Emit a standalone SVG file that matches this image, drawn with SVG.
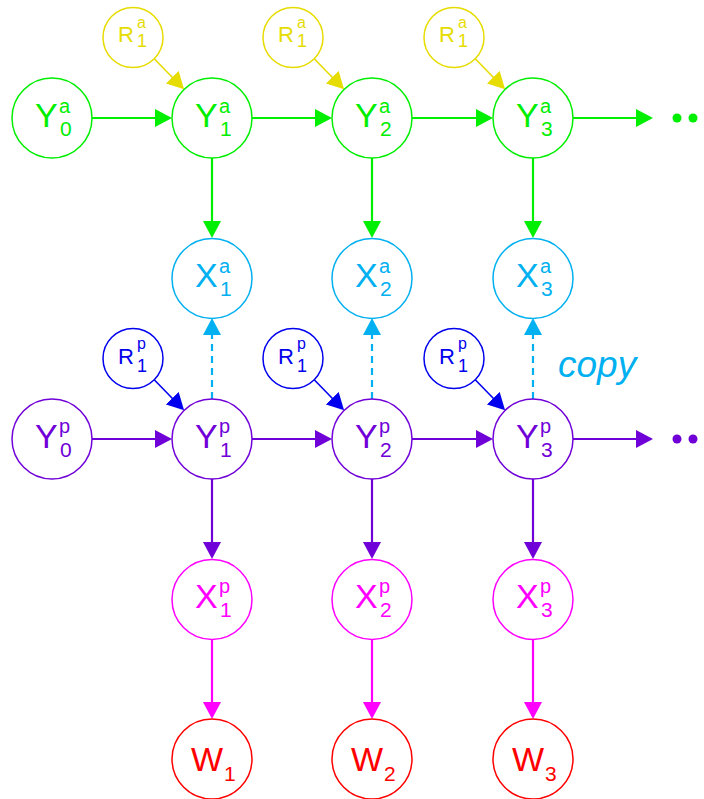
<svg xmlns="http://www.w3.org/2000/svg" width="704" height="799" viewBox="0 0 704 799">
<style>
text{font-family:"Liberation Sans",Arial,sans-serif}
.n{fill:#fff;stroke-width:1.5}
.m{font-size:34px}.sp{font-size:20px}.sb{font-size:21px}
.rm{font-size:22px}.rsp{font-size:16px}.rsb{font-size:18px}
.g{stroke:#00ee00}.gt{fill:#00ee00}
.y{stroke:#e6dc00}.yt{fill:#e6dc00}
.c{stroke:#00b0f0}.ct{fill:#00b0f0}
.b{stroke:#0000ee}.bt{fill:#0000ee}
.p{stroke:#7000d8}.pt{fill:#7000d8}
.mg{stroke:#ff00ff}.mt{fill:#ff00ff}
.r{stroke:#ff0000}.rt{fill:#ff0000}
.e{fill:none;stroke-width:2.2}
.ed{fill:none;stroke-width:1.6}
</style>
<defs>
<marker id="ag" markerUnits="userSpaceOnUse" viewBox="0 0 17 18" markerWidth="17" markerHeight="18" refX="7" refY="9" orient="auto"><path d="M0,0L17,9L0,18z" fill="#00ee00"/></marker>
<marker id="ay" markerUnits="userSpaceOnUse" viewBox="0 0 17 18" markerWidth="17" markerHeight="18" refX="7" refY="9" orient="auto"><path d="M0,0L17,9L0,18z" fill="#e6dc00"/></marker>
<marker id="ac" markerUnits="userSpaceOnUse" viewBox="0 0 17 18" markerWidth="17" markerHeight="18" refX="7" refY="9" orient="auto"><path d="M0,0L17,9L0,18z" fill="#00b0f0"/></marker>
<marker id="ab" markerUnits="userSpaceOnUse" viewBox="0 0 17 18" markerWidth="17" markerHeight="18" refX="7" refY="9" orient="auto"><path d="M0,0L17,9L0,18z" fill="#0000ee"/></marker>
<marker id="ap" markerUnits="userSpaceOnUse" viewBox="0 0 17 18" markerWidth="17" markerHeight="18" refX="7" refY="9" orient="auto"><path d="M0,0L17,9L0,18z" fill="#7000d8"/></marker>
<marker id="am" markerUnits="userSpaceOnUse" viewBox="0 0 17 18" markerWidth="17" markerHeight="18" refX="7" refY="9" orient="auto"><path d="M0,0L17,9L0,18z" fill="#ff00ff"/></marker>
</defs>

<g id="connectors">
<line class="e g" x1="92" y1="118" x2="162" y2="118" marker-end="url(#ag)"/>
<line class="e g" x1="252" y1="118" x2="322" y2="118" marker-end="url(#ag)"/>
<line class="e g" x1="412" y1="118" x2="483" y2="118" marker-end="url(#ag)"/>
<line class="e g" x1="573" y1="118" x2="643" y2="118" marker-end="url(#ag)"/>
<line class="e g" x1="212" y1="158" x2="212" y2="228" marker-end="url(#ag)"/>
<line class="e g" x1="372" y1="158" x2="372" y2="228" marker-end="url(#ag)"/>
<line class="e g" x1="533" y1="158" x2="533" y2="228" marker-end="url(#ag)"/>
<line class="ed y" x1="154" y1="58.5" x2="177.1" y2="82.2" marker-end="url(#ay)"/>
<line class="ed y" x1="314" y1="58.5" x2="337.1" y2="82.2" marker-end="url(#ay)"/>
<line class="ed y" x1="475" y1="58.5" x2="498.1" y2="82.2" marker-end="url(#ay)"/>
<line class="e c" stroke-dasharray="7 5" x1="212" y1="399" x2="212" y2="328" marker-end="url(#ac)"/>
<line class="e c" stroke-dasharray="7 5" x1="372" y1="399" x2="372" y2="328" marker-end="url(#ac)"/>
<line class="e c" stroke-dasharray="7 5" x1="533" y1="399" x2="533" y2="328" marker-end="url(#ac)"/>
<line class="ed b" x1="154" y1="379.5" x2="177.1" y2="403.2" marker-end="url(#ab)"/>
<line class="ed b" x1="314" y1="379.5" x2="337.1" y2="403.2" marker-end="url(#ab)"/>
<line class="ed b" x1="475" y1="379.5" x2="498.1" y2="403.2" marker-end="url(#ab)"/>
<line class="e p" x1="92" y1="439" x2="162" y2="439" marker-end="url(#ap)"/>
<line class="e p" x1="252" y1="439" x2="322" y2="439" marker-end="url(#ap)"/>
<line class="e p" x1="412" y1="439" x2="483" y2="439" marker-end="url(#ap)"/>
<line class="e p" x1="573" y1="439" x2="643" y2="439" marker-end="url(#ap)"/>
<line class="e p" x1="212" y1="479" x2="212" y2="549" marker-end="url(#ap)"/>
<line class="e p" x1="372" y1="479" x2="372" y2="549" marker-end="url(#ap)"/>
<line class="e p" x1="533" y1="479" x2="533" y2="549" marker-end="url(#ap)"/>
<line class="e mg" x1="212" y1="639" x2="212" y2="709" marker-end="url(#am)"/>
<line class="e mg" x1="372" y1="639" x2="372" y2="709" marker-end="url(#am)"/>
<line class="e mg" x1="533" y1="639" x2="533" y2="709" marker-end="url(#am)"/>
</g>

<g id="dots-a" class="gt"><circle cx="677" cy="118" r="4.5"/><circle cx="693" cy="118" r="4.5"/></g>
<g id="dots-p" class="pt"><circle cx="677" cy="439" r="4.5"/><circle cx="693" cy="439" r="4.5"/></g>

<g id="Ya0"><circle class="n g" cx="52" cy="118" r="40"/><text class="m gt" x="35" y="127">Y<tspan class="sp" x="59" y="112.5">a</tspan><tspan class="sb" x="60" y="136">0</tspan></text></g>
<g id="Ya1"><circle class="n g" cx="212" cy="118" r="40"/><text class="m gt" x="195" y="127">Y<tspan class="sp" x="219" y="112.5">a</tspan><tspan class="sb" x="220" y="136">1</tspan></text></g>
<g id="Ya2"><circle class="n g" cx="372" cy="118" r="40"/><text class="m gt" x="355" y="127">Y<tspan class="sp" x="379" y="112.5">a</tspan><tspan class="sb" x="380" y="136">2</tspan></text></g>
<g id="Ya3"><circle class="n g" cx="533" cy="118" r="40"/><text class="m gt" x="516" y="127">Y<tspan class="sp" x="540" y="112.5">a</tspan><tspan class="sb" x="541" y="136">3</tspan></text></g>

<g id="Ra1"><circle class="n y" cx="133" cy="37.5" r="30"/><text class="rm yt" x="118" y="42">R<tspan class="rsp" x="137" y="27.5">a</tspan><tspan class="rsb" x="137" y="47">1</tspan></text></g>
<g id="Ra2"><circle class="n y" cx="293" cy="37.5" r="30"/><text class="rm yt" x="278" y="42">R<tspan class="rsp" x="297" y="27.5">a</tspan><tspan class="rsb" x="297" y="47">1</tspan></text></g>
<g id="Ra3"><circle class="n y" cx="454" cy="37.5" r="30"/><text class="rm yt" x="439" y="42">R<tspan class="rsp" x="458" y="27.5">a</tspan><tspan class="rsb" x="458" y="47">1</tspan></text></g>

<g id="Xa1"><circle class="n c" cx="212" cy="278.5" r="40"/><text class="m ct" x="195" y="287">X<tspan class="sp" x="219" y="273">a</tspan><tspan class="sb" x="220" y="296">1</tspan></text></g>
<g id="Xa2"><circle class="n c" cx="372" cy="278.5" r="40"/><text class="m ct" x="355" y="287">X<tspan class="sp" x="379" y="273">a</tspan><tspan class="sb" x="380" y="296">2</tspan></text></g>
<g id="Xa3"><circle class="n c" cx="533" cy="278.5" r="40"/><text class="m ct" x="516" y="287">X<tspan class="sp" x="540" y="273">a</tspan><tspan class="sb" x="541" y="296">3</tspan></text></g>

<g id="Rp1"><circle class="n b" cx="133" cy="358.5" r="30"/><text class="rm bt" x="118" y="363.5">R<tspan class="rsp" x="137" y="349">p</tspan><tspan class="rsb" x="137" y="371.5">1</tspan></text></g>
<g id="Rp2"><circle class="n b" cx="293" cy="358.5" r="30"/><text class="rm bt" x="278" y="363.5">R<tspan class="rsp" x="297" y="349">p</tspan><tspan class="rsb" x="297" y="371.5">1</tspan></text></g>
<g id="Rp3"><circle class="n b" cx="454" cy="358.5" r="30"/><text class="rm bt" x="439" y="363.5">R<tspan class="rsp" x="458" y="349">p</tspan><tspan class="rsb" x="458" y="371.5">1</tspan></text></g>

<g id="copy-label"><text class="ct" x="558" y="377" font-size="37" font-style="italic">copy</text></g>

<g id="Yp0"><circle class="n p" cx="52" cy="439" r="40"/><text class="m pt" x="35" y="448">Y<tspan class="sp" x="59" y="433">p</tspan><tspan class="sb" x="60" y="457">0</tspan></text></g>
<g id="Yp1"><circle class="n p" cx="212" cy="439" r="40"/><text class="m pt" x="195" y="448">Y<tspan class="sp" x="219" y="433">p</tspan><tspan class="sb" x="220" y="457">1</tspan></text></g>
<g id="Yp2"><circle class="n p" cx="372" cy="439" r="40"/><text class="m pt" x="355" y="448">Y<tspan class="sp" x="379" y="433">p</tspan><tspan class="sb" x="380" y="457">2</tspan></text></g>
<g id="Yp3"><circle class="n p" cx="533" cy="439" r="40"/><text class="m pt" x="516" y="448">Y<tspan class="sp" x="540" y="433">p</tspan><tspan class="sb" x="541" y="457">3</tspan></text></g>

<g id="Xp1"><circle class="n mg" cx="212" cy="599.5" r="40"/><text class="m mt" x="195" y="608">X<tspan class="sp" x="219" y="593">p</tspan><tspan class="sb" x="220" y="617">1</tspan></text></g>
<g id="Xp2"><circle class="n mg" cx="372" cy="599.5" r="40"/><text class="m mt" x="355" y="608">X<tspan class="sp" x="379" y="593">p</tspan><tspan class="sb" x="380" y="617">2</tspan></text></g>
<g id="Xp3"><circle class="n mg" cx="533" cy="599.5" r="40"/><text class="m mt" x="516" y="608">X<tspan class="sp" x="540" y="593">p</tspan><tspan class="sb" x="541" y="617">3</tspan></text></g>

<g id="W1"><circle class="n r" cx="212" cy="759" r="40"/><text class="m rt" x="191" y="771">W<tspan class="sb" x="224" y="781">1</tspan></text></g>
<g id="W2"><circle class="n r" cx="372" cy="759" r="40"/><text class="m rt" x="351" y="771">W<tspan class="sb" x="384" y="781">2</tspan></text></g>
<g id="W3"><circle class="n r" cx="533" cy="759" r="40"/><text class="m rt" x="512" y="771">W<tspan class="sb" x="545" y="781">3</tspan></text></g>
</svg>
